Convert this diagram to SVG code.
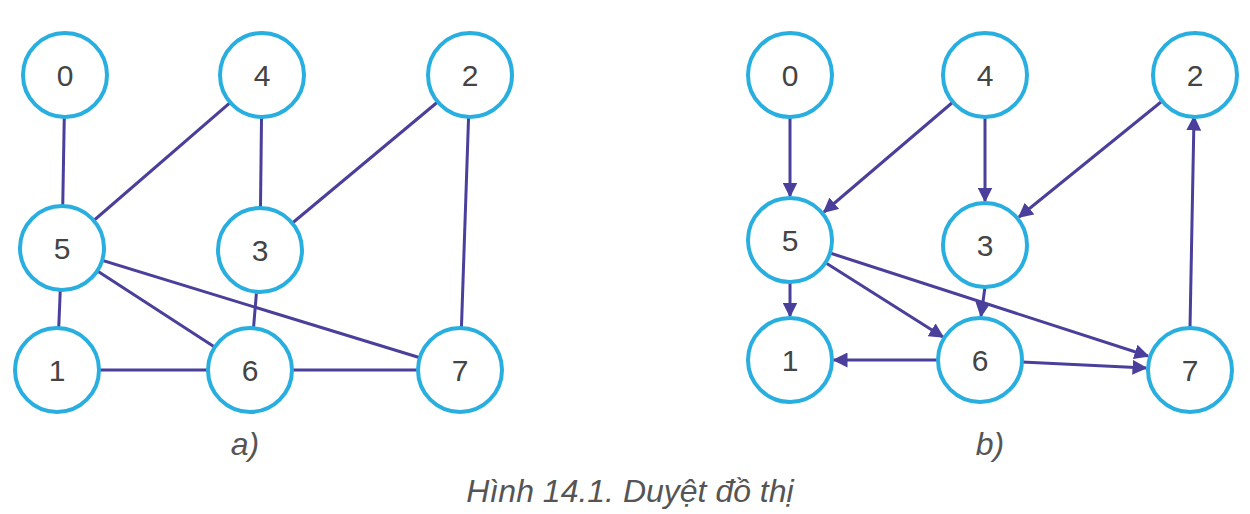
<svg xmlns="http://www.w3.org/2000/svg" width="1250" height="514" viewBox="0 0 1250 514">
<style>
.n circle{fill:#fff;stroke:#29aee0;stroke-width:4}
.n text{font-family:"Liberation Sans",Arial,sans-serif;font-size:30px;fill:#444;text-anchor:middle;dominant-baseline:central}
.e line{stroke:#4a3f9a;stroke-width:3}
.cap{font-family:"Liberation Sans",Arial,sans-serif;font-style:italic;fill:#555;text-anchor:middle}
</style>
<defs><marker id="ah" viewBox="0 0 10 10" refX="9" refY="5" markerWidth="5" markerHeight="5" orient="auto"><path d="M0,0L10,5L0,10z" fill="#4a3f9a"/></marker></defs>
<rect width="1250" height="514" fill="#fff"/>
<g id="edges-a" class="e">
<line x1="65" y1="75" x2="62" y2="248"/>
<line x1="262" y1="75" x2="62" y2="248"/>
<line x1="262" y1="75" x2="260" y2="250"/>
<line x1="470" y1="75" x2="260" y2="250"/>
<line x1="470" y1="75" x2="460" y2="370"/>
<line x1="62" y1="248" x2="57" y2="370"/>
<line x1="62" y1="248" x2="250" y2="370"/>
<line x1="62" y1="248" x2="460" y2="370"/>
<line x1="260" y1="250" x2="250" y2="370"/>
<line x1="57" y1="370" x2="250" y2="370"/>
<line x1="250" y1="370" x2="460" y2="370"/>
</g>
<g id="edges-b" class="e" marker-end="url(#ah)">
<line x1="790" y1="117" x2="790" y2="196" marker-end="url(#ah)"/>
<line x1="953" y1="102" x2="824" y2="212" marker-end="url(#ah)"/>
<line x1="985" y1="117" x2="985" y2="201" marker-end="url(#ah)"/>
<line x1="1161" y1="102" x2="1019" y2="217" marker-end="url(#ah)"/>
<line x1="1190" y1="328" x2="1194" y2="117" marker-end="url(#ah)"/>
<line x1="790" y1="282" x2="790" y2="316" marker-end="url(#ah)"/>
<line x1="826" y1="263" x2="943" y2="337" marker-end="url(#ah)"/>
<line x1="830" y1="253" x2="1148" y2="356" marker-end="url(#ah)"/>
<line x1="985" y1="287" x2="981" y2="316" marker-end="url(#ah)"/>
<line x1="938" y1="360" x2="834" y2="360" marker-end="url(#ah)"/>
<line x1="1022" y1="362" x2="1146" y2="368" marker-end="url(#ah)"/>
</g>
<g id="a0" class="n"><circle cx="65" cy="75" r="42"/><text x="65" y="75">0</text></g>
<g id="a4" class="n"><circle cx="262" cy="75" r="42"/><text x="262" y="75">4</text></g>
<g id="a2" class="n"><circle cx="470" cy="75" r="42"/><text x="470" y="75">2</text></g>
<g id="a5" class="n"><circle cx="62" cy="248" r="42"/><text x="62" y="248">5</text></g>
<g id="a3" class="n"><circle cx="260" cy="250" r="42"/><text x="260" y="250">3</text></g>
<g id="a1" class="n"><circle cx="57" cy="370" r="42"/><text x="57" y="370">1</text></g>
<g id="a6" class="n"><circle cx="250" cy="370" r="42"/><text x="250" y="370">6</text></g>
<g id="a7" class="n"><circle cx="460" cy="370" r="42"/><text x="460" y="370">7</text></g>
<g id="b0" class="n"><circle cx="790" cy="75" r="42"/><text x="790" y="75">0</text></g>
<g id="b4" class="n"><circle cx="985" cy="75" r="42"/><text x="985" y="75">4</text></g>
<g id="b2" class="n"><circle cx="1195" cy="75" r="42"/><text x="1195" y="75">2</text></g>
<g id="b5" class="n"><circle cx="790" cy="240" r="42"/><text x="790" y="240">5</text></g>
<g id="b3" class="n"><circle cx="985" cy="245" r="42"/><text x="985" y="245">3</text></g>
<g id="b1" class="n"><circle cx="790" cy="360" r="42"/><text x="790" y="360">1</text></g>
<g id="b6" class="n"><circle cx="980" cy="360" r="42"/><text x="980" y="360">6</text></g>
<g id="b7" class="n"><circle cx="1190" cy="370" r="42"/><text x="1190" y="370">7</text></g>
<text class="cap" x="245" y="455" font-size="32">a)</text>
<text class="cap" x="990" y="455" font-size="32">b)</text>
<text class="cap" x="630" y="502" font-size="32">Hình 14.1. Duyệt đồ thị</text>
</svg>
